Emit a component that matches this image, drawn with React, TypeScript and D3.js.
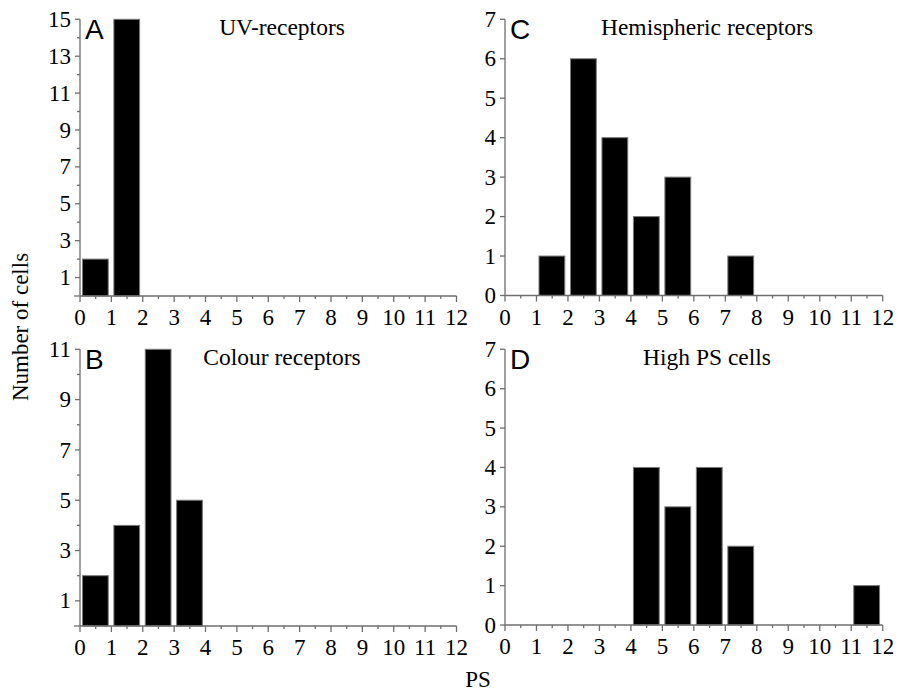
import React from "react";
import * as d3 from "d3";

// ---- Data ----
const bins = [0, 1, 2, 3, 4, 5, 6, 7, 8, 9, 10, 11];
const xTicks = [0, 1, 2, 3, 4, 5, 6, 7, 8, 9, 10, 11, 12];

const uvCounts = [2, 15, 0, 0, 0, 0, 0, 0, 0, 0, 0, 0];
const colourCounts = [2, 4, 11, 5, 0, 0, 0, 0, 0, 0, 0, 0];
const hemiCounts = [0, 1, 6, 4, 2, 3, 0, 1, 0, 0, 0, 0];
const highPSCounts = [0, 0, 0, 0, 4, 3, 4, 2, 0, 0, 0, 1];

const uvYTicks = [1, 3, 5, 7, 9, 11, 13, 15];
const uvYMinor = [0, 2, 4, 6, 8, 10, 12, 14];
const colourYTicks = [1, 3, 5, 7, 9, 11];
const colourYMinor = [0, 2, 4, 6, 8, 10];
const sevenYTicks = [0, 1, 2, 3, 4, 5, 6, 7];

const panelLetters = ["A", "B", "C", "D"];
const panelTitles = ["UV-receptors", "Colour receptors", "Hemispheric receptors", "High PS cells"];

const SERIF = "'Liberation Serif', 'Times New Roman', Times, serif";
const SANS = "'Liberation Sans', Arial, Helvetica, sans-serif";
const AXIS = "#6e6e6e";

type PanelProps = {
  letter: string;
  title: string;
  counts: number[];
  yMax: number;
  yTicks: number[];
  yMinor: number[];
  left: number;
  right: number;
  bottom: number;
  top: number;
};

function Panel({ letter, title, counts, yMax, yTicks, yMinor, left, right, bottom, top }: PanelProps) {
  const x = d3.scaleLinear().domain([0, 12]).range([left, right]);
  const y = d3.scaleLinear().domain([0, yMax]).range([bottom, top]);
  const halfTicks = d3.range(0.5, 12, 1);
  return (
    <g>
      {bins.map((b, i) =>
        counts[i] > 0 ? (
          <rect
            key={b}
            x={x(b + 0.08)}
            y={y(counts[i])}
            width={x(b + 0.9) - x(b + 0.08)}
            height={y(0) - y(counts[i])}
            fill="#000"
            stroke="#7a7a7a"
            strokeWidth={1}
          />
        ) : null
      )}
      <line x1={left} x2={left} y1={y(yMax)} y2={bottom} stroke={AXIS} strokeWidth={1.3} />
      {yTicks.map((t) => (
        <g key={"yt" + t}>
          <line x1={left - 5} x2={left} y1={y(t)} y2={y(t)} stroke={AXIS} strokeWidth={1.3} />
          <text
            x={left - 9}
            y={y(t)}
            dy="0.33em"
            textAnchor="end"
            fontFamily={SERIF}
            fontSize={23}
            fill="#000"
          >
            {t}
          </text>
        </g>
      ))}
      {yMinor.map((t) => (
        <line key={"ym" + t} x1={left - (t === 0 ? 6 : 3)} x2={left} y1={y(t)} y2={y(t)} stroke={AXIS} strokeWidth={1.3} />
      ))}
      <line x1={left} x2={right} y1={bottom} y2={bottom} stroke={AXIS} strokeWidth={1.3} />
      {xTicks.map((t) => (
        <g key={"xt" + t}>
          <line x1={x(t)} x2={x(t)} y1={bottom} y2={bottom + 6} stroke={AXIS} strokeWidth={1.3} />
          <text
            x={x(t)}
            y={bottom + 29}
            textAnchor="middle"
            fontFamily={SERIF}
            fontSize={23}
            fill="#000"
          >
            {t}
          </text>
        </g>
      ))}
      {halfTicks.map((t) => (
        <line key={"xm" + t} x1={x(t)} x2={x(t)} y1={bottom} y2={bottom + 3} stroke={AXIS} strokeWidth={1.3} />
      ))}
      <text x={left + 5} y={y(yMax) + 20} fontFamily={SANS} fontSize={28} fill="#000">
        {letter}
      </text>
      <text
        x={left + 202}
        y={y(yMax) + 15.5}
        textAnchor="middle"
        fontFamily={SERIF}
        fontSize={23.5}
        fill="#000"
      >
        {title}
      </text>
    </g>
  );
}

export default function App() {
  return (
    <svg
      width={897}
      height={693}
      style={{ position: "absolute", left: 0, top: 0, background: "#fff" }}
    >
      <rect x={0} y={0} width={897} height={693} fill="#fff" />
      <Panel
        letter={panelLetters[0]}
        title={panelTitles[0]}
        counts={uvCounts}
        yMax={15}
        yTicks={uvYTicks}
        yMinor={uvYMinor}
        left={80}
        right={456.5}
        bottom={296}
        top={19.3}
      />
      <Panel
        letter={panelLetters[1]}
        title={panelTitles[1]}
        counts={colourCounts}
        yMax={11}
        yTicks={colourYTicks}
        yMinor={colourYMinor}
        left={80}
        right={456.5}
        bottom={626}
        top={349.3}
      />
      <Panel
        letter={panelLetters[2]}
        title={panelTitles[2]}
        counts={hemiCounts}
        yMax={7}
        yTicks={sevenYTicks}
        yMinor={[]}
        left={505}
        right={882.7}
        bottom={295.5}
        top={19.3}
      />
      <Panel
        letter={panelLetters[3]}
        title={panelTitles[3]}
        counts={highPSCounts}
        yMax={7}
        yTicks={sevenYTicks}
        yMinor={[]}
        left={505}
        right={882.7}
        bottom={625}
        top={349.3}
      />
      <text
        transform="translate(28,327) rotate(-90)"
        textAnchor="middle"
        fontFamily={SERIF}
        fontSize={23}
        fill="#000"
      >
        Number of cells
      </text>
      <text x={478} y={687} textAnchor="middle" fontFamily={SERIF} fontSize={23} fill="#000">
        PS
      </text>
    </svg>
  );
}
